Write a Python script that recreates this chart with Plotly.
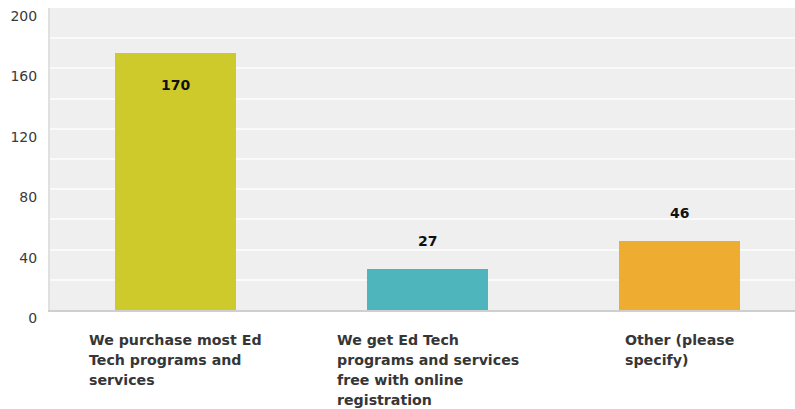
import plotly.graph_objects as go

# Survey responses: how Ed Tech programs and services are obtained
categories = [
    "We purchase most Ed<br>Tech programs and<br>services",
    "We get Ed Tech<br>programs and services<br>free with online<br>registration",
    "Other (please<br>specify)",
]
counts = [170, 27, 46]
bar_colors = ["#cfca2c", "#4db5bb", "#eeac31"]

y_tick_values = [0, 20, 40, 60, 80, 100, 120, 140, 160, 180, 200]
y_tick_labels = ["0", "", "40", "", "80", "", "120", "", "160", "", "200"]

x_pos = list(range(len(counts)))

fig = go.Figure(
    go.Bar(
        x=x_pos,
        y=counts,
        width=0.48,
        marker=dict(color=bar_colors, line=dict(width=0)),
        hoverinfo="skip",
    )
)

# Value labels: inside the tall bar, above the short ones
for xi, v in zip(x_pos, counts):
    inside = v > 100
    fig.add_annotation(
        x=xi, y=v, xref="x", yref="y",
        text=f"<b>{v}</b>", showarrow=False,
        yanchor="middle", xanchor="center",
        yshift=-32 if inside else 28,
        font=dict(family="DejaVu Sans", size=14, color="#111111"),
    )

# Category labels: block centred under each bar, lines left-aligned.
# The outer font size sets the line spacing, the span sets the glyph size.
for xi, cat in zip(x_pos, categories):
    lines = cat.split("<br>")
    text = "<br>".join(
        f'<span style="font-size:14.2px"><b>{ln}</b></span>' for ln in lines
    )
    fig.add_annotation(
        x=xi, y=0, xref="x", yref="y",
        text=text, showarrow=False,
        xanchor="center", yanchor="top", align="left",
        yshift=-20,
        font=dict(family="DejaVu Sans", size=15.4, color="#363636"),
    )

fig.update_layout(
    width=795, height=409,
    margin=dict(l=50, r=0, t=8, b=99),
    paper_bgcolor="#ffffff",
    plot_bgcolor="#efefef",
    showlegend=False,
    bargap=0,
    xaxis=dict(
        range=[-0.5, 2.46],
        showticklabels=False,
        showgrid=False,
        zeroline=False,
        showline=True, linecolor="#cfcfcf", linewidth=1.5,
        fixedrange=True,
    ),
    yaxis=dict(
        range=[0, 200],
        tickmode="array",
        tickvals=y_tick_values,
        ticktext=y_tick_labels,
        showgrid=True, gridcolor="#fafafa", gridwidth=1.5,
        zeroline=False,
        showline=True, linecolor="#e0e0e0", linewidth=2,
        ticks="",
        ticklabelstandoff=8,
        ticklabelshift=8,
        tickfont=dict(family="DejaVu Sans", size=14, color="#3a3a3a"),
        fixedrange=True,
    ),
)

fig.write_html("out.html")
